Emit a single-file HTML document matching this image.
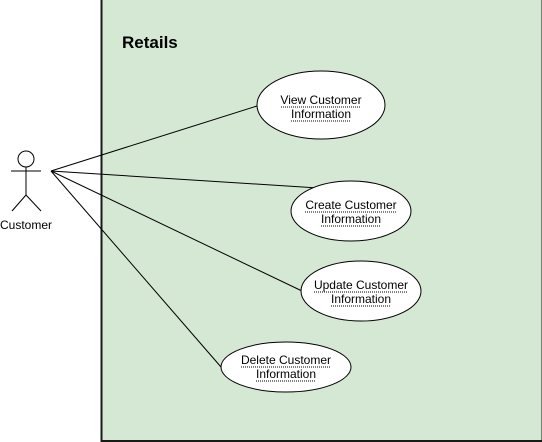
<!DOCTYPE html>
<html><head><style>body{margin:0;background:#fff}svg{display:block}</style></head><body>
<svg width="542" height="442" viewBox="0 0 542 442" xmlns="http://www.w3.org/2000/svg" font-family="Liberation Sans, sans-serif">
<rect x="101.5" y="-1" width="441" height="442" fill="#d5e8d4" stroke="#1a1a1a" stroke-width="2"/>
<text x="122" y="48" font-size="17" font-weight="bold" fill="#000">Retails</text>
<g stroke="#000" stroke-width="1" fill="none">
<circle cx="26" cy="159" r="8" fill="#fff"/>
<line x1="26" y1="167" x2="26" y2="195"/>
<line x1="11" y1="171" x2="41" y2="171"/>
<line x1="26" y1="195" x2="12" y2="211"/>
<line x1="26" y1="195" x2="41" y2="211"/>
<line x1="51" y1="171" x2="257" y2="106"/>
<line x1="51" y1="171" x2="318" y2="188"/>
<line x1="51" y1="171" x2="302" y2="291"/>
<line x1="51" y1="171" x2="221" y2="367"/>
</g>
<text x="26" y="229" font-size="12" text-anchor="middle">Customer</text>
<g stroke="#000" fill="#fff">
<ellipse cx="321" cy="105" rx="64" ry="34"/>
<ellipse cx="351" cy="211" rx="60" ry="30"/>
<ellipse cx="361" cy="291" rx="60" ry="30"/>
<ellipse cx="286" cy="367" rx="65" ry="25"/>
</g>
<g font-size="12" text-anchor="middle" fill="#000">
<text x="321" y="104">View Customer</text><text x="321" y="118">Information</text>
<text x="351" y="209">Create Customer</text><text x="351" y="223">Information</text>
<text x="361" y="289">Update Customer</text><text x="361" y="303">Information</text>
<text x="286" y="364">Delete Customer</text><text x="286" y="378">Information</text>
</g>
<g stroke="#000" stroke-width="1" stroke-dasharray="1,1">
<line x1="281" y1="107" x2="361" y2="107"/><line x1="291" y1="121" x2="351" y2="121"/>
<line x1="305" y1="212" x2="397" y2="212"/><line x1="321" y1="226" x2="381" y2="226"/>
<line x1="314" y1="292" x2="408" y2="292"/><line x1="331" y1="306" x2="391" y2="306"/>
<line x1="241" y1="367" x2="331" y2="367"/><line x1="256" y1="381" x2="316" y2="381"/>
</g>
</svg>
</body></html>
